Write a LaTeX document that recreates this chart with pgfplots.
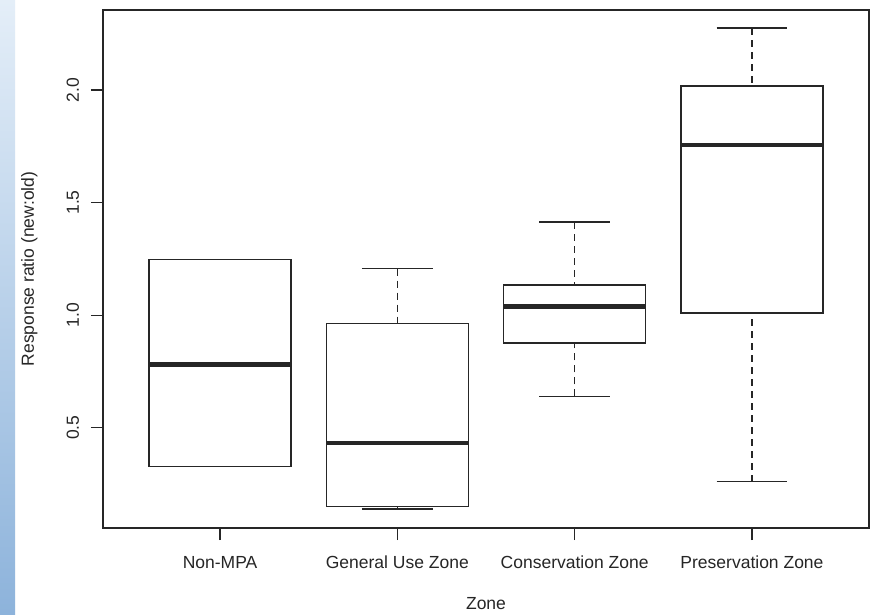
\documentclass[border=0pt]{standalone}
\usepackage{fontspec}
\setmainfont{Liberation Sans}
\usepackage{pgfplots}
\pgfplotsset{compat=1.18}
\usepgfplotslibrary{statistics}
\definecolor{ink}{HTML}{262626}
\definecolor{stripA}{HTML}{E4EEF8}
\definecolor{stripB}{HTML}{C3D8EE}
\definecolor{stripC}{HTML}{8DB3DB}
\pgfplotsset{
  boxplot/draw/lower whisker/.code={%
    \draw[/pgfplots/boxplot/every whisker/.try, dash pattern=on 7pt off 5pt]
      (boxplot box cs:\pgfplotsboxplotvalue{lower whisker},0.5) --
      (boxplot box cs:\pgfplotsboxplotvalue{lower quartile},0.5);
    \draw[/pgfplots/boxplot/every whisker/.try]
      (boxplot whisker cs:\pgfplotsboxplotvalue{lower whisker},0) --
      (boxplot whisker cs:\pgfplotsboxplotvalue{lower whisker},1);
  },
  boxplot/draw/upper whisker/.code={%
    \draw[/pgfplots/boxplot/every whisker/.try, dash pattern=on 7pt off 5pt]
      (boxplot box cs:\pgfplotsboxplotvalue{upper whisker},0.5) --
      (boxplot box cs:\pgfplotsboxplotvalue{upper quartile},0.5);
    \draw[/pgfplots/boxplot/every whisker/.try]
      (boxplot whisker cs:\pgfplotsboxplotvalue{upper whisker},0) --
      (boxplot whisker cs:\pgfplotsboxplotvalue{upper whisker},1);
  },
}
\begin{document}
\begin{tikzpicture}[x=1pt,y=1pt]
\useasboundingbox (0,0) rectangle (875,614);
\fill[white] (0,0) rectangle (875,614);
\shade[top color=stripA, middle color=stripB, bottom color=stripC] (0,0) rectangle (15,614);
\begin{axis}[
  at={(103pt,86pt)}, anchor=south west,
  width=766pt, height=518pt, scale only axis,
  xmin=0.34, xmax=4.66, ymin=0.055, ymax=2.355,
  axis line style={line width=1.2pt, color=ink},
  tick pos=left, tick align=outside, major tick length=12pt,
  tick style={line width=1.2pt, color=ink},
  xtick={1,2,3,4},
  xticklabels={Non-MPA,General Use Zone,Conservation Zone,Preservation Zone},
  ytick={0.5,1,1.5,2},
  yticklabels={0.5,1.0,1.5,2.0},
  tick label style={font=\fontsize{17.5}{20}\selectfont, text=ink},
  xticklabel style={anchor=base, yshift=-28pt},
  yticklabel style={xshift=-12pt, rotate=90, anchor=base},
  every axis x label/.style={at={(axis description cs:0.5,0)}, yshift=-81pt, anchor=base, font=\fontsize{17.5}{20}\selectfont, text=ink},
  every axis y label/.style={at={(axis description cs:0,0.5)}, xshift=-69pt, rotate=90, anchor=base, font=\fontsize{17.5}{20}\selectfont, text=ink},
  xlabel={Zone},
  ylabel={Response ratio (new:old)},
  boxplot/draw direction=y,
  boxplot/box extend=0.8,
  boxplot/whisker extend=0.4,
  boxplot/every box/.style={line width=1.4pt},
  boxplot/every whisker/.style={line width=1.4pt},
  boxplot/every median/.style={line width=4.8pt},
]
\addplot[ink, line width=1.4pt, boxplot prepared={draw position=1,
  lower whisker=0.327, lower quartile=0.327, median=0.782,
  upper quartile=1.247, upper whisker=1.247}] coordinates {};
\addplot[ink, line width=1.4pt, boxplot prepared={draw position=2,
  lower whisker=0.140, lower quartile=0.150, median=0.432,
  upper quartile=0.962, upper whisker=1.207}] coordinates {};
\addplot[ink, line width=1.4pt, boxplot prepared={draw position=3,
  lower whisker=0.639, lower quartile=0.876, median=1.037,
  upper quartile=1.134, upper whisker=1.413}] coordinates {};
\addplot[ink, line width=1.4pt, boxplot prepared={draw position=4,
  lower whisker=0.261, lower quartile=1.009, median=1.756,
  upper quartile=2.017, upper whisker=2.275}] coordinates {};
\end{axis}
\end{tikzpicture}
\end{document}
